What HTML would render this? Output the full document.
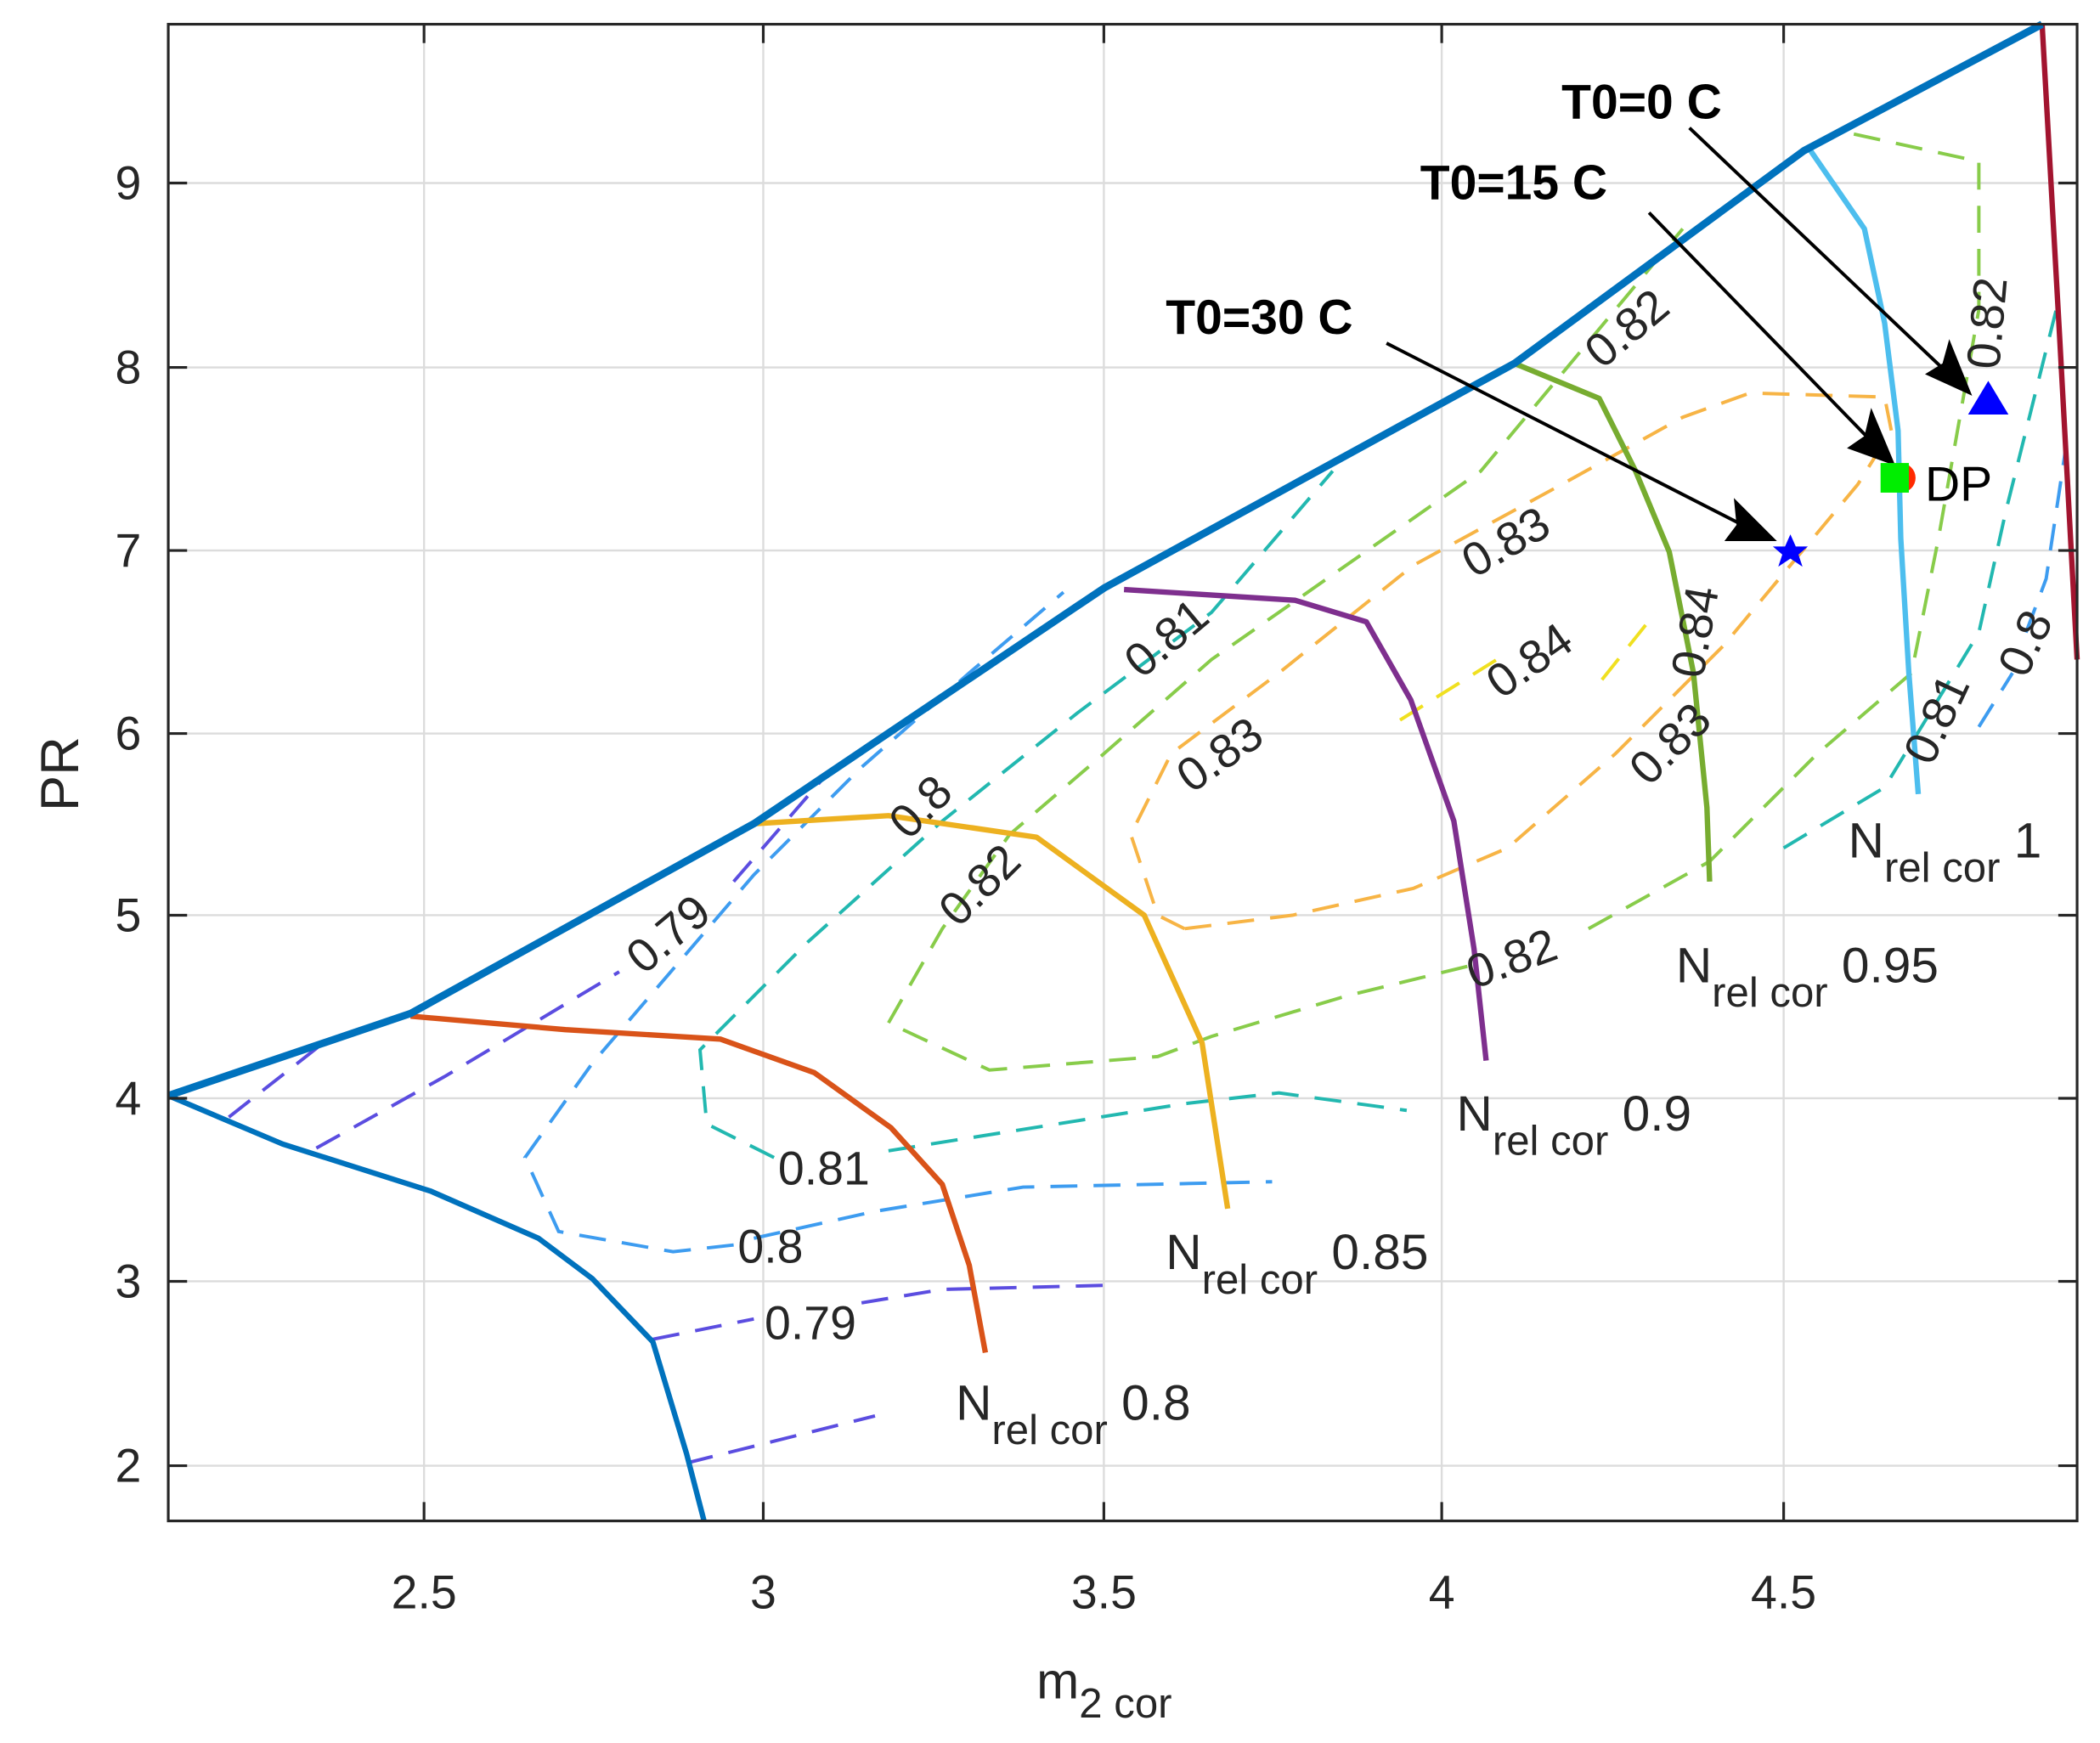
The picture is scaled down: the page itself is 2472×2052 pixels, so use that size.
<!DOCTYPE html>
<html><head><meta charset="utf-8"><style>
html,body{margin:0;padding:0;background:#fff;}
svg{display:block;}
text{font-family:"Liberation Sans",Arial,sans-serif;fill:#262626;}
</style></head><body>
<svg width="2472" height="2052" viewBox="0 0 1560 1295" preserveAspectRatio="none" xmlns="http://www.w3.org/2000/svg">
<rect x="0" y="0" width="1560" height="1295" fill="#fff"/>
<!-- grid -->
<g stroke="#dcdcdc" stroke-width="1.5">
<line x1="315" y1="18" x2="315" y2="1130"/><line x1="567" y1="18" x2="567" y2="1130"/>
<line x1="820" y1="18" x2="820" y2="1130"/><line x1="1071" y1="18" x2="1071" y2="1130"/>
<line x1="1325" y1="18" x2="1325" y2="1130"/>
<line x1="125" y1="136" x2="1543" y2="136"/><line x1="125" y1="273" x2="1543" y2="273"/>
<line x1="125" y1="409" x2="1543" y2="409"/><line x1="125" y1="545" x2="1543" y2="545"/>
<line x1="125" y1="680" x2="1543" y2="680"/><line x1="125" y1="816" x2="1543" y2="816"/>
<line x1="125" y1="952" x2="1543" y2="952"/><line x1="125" y1="1089" x2="1543" y2="1089"/>
</g>
<!-- dashed efficiency contours -->
<g fill="none" stroke-width="2.5" stroke-dasharray="20,12">
<g stroke="#5b4de0">
<polyline points="170,830 240,775"/>
<polyline points="235,853 330,800 460,722"/>
<polyline points="545,655 610,580"/>
<polyline points="485,995 560,980"/>
<polyline points="640,968 700,958 820,955"/>
<polyline points="510,1087 650,1052"/>
</g>
<g stroke="#3d9cf0">
<polyline points="560,920 650,900 760,882 945,878"/>
<polyline points="545,925 500,930 415,915 390,860 440,790 500,720 560,650 640,570 720,500 790,440"/>
<polyline points="1470,540 1495,500"/><polyline points="1505,470 1520,430 1535,330"/>
</g>
<g stroke="#22b8b0">
<polyline points="575,860 525,835 520,780 600,700 700,610 800,530 900,455 990,350"/>
<polyline points="660,855 880,820 950,812 1045,825"/>
<polyline points="1325,630 1400,585 1470,470 1490,380 1530,220"/>
</g>
<g stroke="#88cc4a">
<polyline points="1090,718 1000,740 900,770 860,785 735,795 660,760 700,690 750,620 820,560 900,490 1000,420 1100,350 1250,170"/>
<polyline points="1180,690 1270,640 1350,560 1420,500 1440,400 1470,230 1470,120 1370,98"/>
</g>
<g stroke="#f7b445">
<polyline points="880,690 960,680 1050,660 1120,630 1200,560 1280,480 1330,420 1380,360 1405,320 1400,295 1300,292 1250,310 1160,360 1050,420 950,500 870,560 840,620 860,680 880,690"/>
</g>
<g stroke="#f0e020">
<polyline points="1040,535 1120,485"/><polyline points="1190,505 1230,455"/>
</g>
</g>
<!-- speed lines -->
<g fill="none" stroke-width="4" stroke-linejoin="round">
<polyline stroke="#D95319" points="305,755 420,765 535,772 605,797 662,838 700,880 720,940 732,1005"/>
<polyline stroke="#EDB120" points="560,612 660,606 770,622 850,680 893,775 912,898"/>
<polyline stroke="#7E2F8E" points="835,438 962,446 1015,462 1048,520 1080,610 1095,705 1104,788"/>
<polyline stroke="#77AC30" points="1125,270 1188,296 1215,350 1240,410 1258,500 1268,600 1270,655"/>
<polyline stroke="#4DBEEE" points="1345,112 1385,170 1400,240 1410,320 1412,400 1418,500 1425,590"/>
<polyline stroke="#A2142F" points="1517,18 1530,250 1543,490"/>
<polyline stroke="#0072BD" stroke-width="4" points="125,814 210,850 320,885 400,920 440,950 485,997 510,1080 523,1130"/>
<polyline stroke="#0072BD" stroke-width="5.5" points="125,814 305,753 560,612 820,437 1125,270 1340,112 1517,18"/>
</g>
<!-- contour labels -->
<g font-size="35">
<text transform="translate(478,725) rotate(-40)">0.79</text>
<text transform="translate(675,625) rotate(-45)">0.8</text>
<text transform="translate(712,690) rotate(-45)">0.82</text>
<text transform="translate(848,505) rotate(-40)">0.81</text>
<text transform="translate(885,590) rotate(-35)">0.83</text>
<text transform="translate(1095,430) rotate(-30)">0.83</text>
<text transform="translate(1115,520) rotate(-35)">0.84</text>
<text transform="translate(1190,275) rotate(-40)">0.82</text>
<text transform="translate(1265,505) rotate(-80)">0.84</text>
<text transform="translate(1225,585) rotate(-45)">0.83</text>
<text transform="translate(1095,735) rotate(-20)">0.82</text>
<text transform="translate(1485,275) rotate(-85)">0.82</text>
<text transform="translate(1435,570) rotate(-65)">0.81</text>
<text transform="translate(1505,505) rotate(-65)">0.8</text>
<text x="578" y="880">0.81</text>
<text x="548" y="938">0.8</text>
<text x="568" y="995">0.79</text>
</g>
<!-- speed labels -->
<g font-size="37">
<text x="710" y="1055">N<tspan font-size="31" dy="18">rel cor</tspan><tspan dy="-18"> 0.8</tspan></text>
<text x="866" y="943">N<tspan font-size="31" dy="18">rel cor</tspan><tspan dy="-18"> 0.85</tspan></text>
<text x="1082" y="840">N<tspan font-size="31" dy="18">rel cor</tspan><tspan dy="-18"> 0.9</tspan></text>
<text x="1245" y="730">N<tspan font-size="31" dy="18">rel cor</tspan><tspan dy="-18"> 0.95</tspan></text>
<text x="1373" y="637">N<tspan font-size="31" dy="18">rel cor</tspan><tspan dy="-18"> 1</tspan></text>
</g>
<!-- annotations -->
<g font-size="36" font-weight="bold">
<text x="1160" y="88" style="fill:#000">T0=0 C</text>
<text x="1055" y="148" style="fill:#000">T0=15 C</text>
<text x="866" y="248" style="fill:#000">T0=30 C</text>
</g>
<g stroke="#000" stroke-width="2.5" fill="none">
<line x1="1255" y1="95" x2="1455" y2="285"/>
<line x1="1225" y1="158" x2="1400" y2="338"/>
<line x1="1030" y1="255" x2="1310" y2="398"/>
</g>
<g fill="#000">
<polygon points="1465,294 1430,278 1443,270 1448,252"/>
<polygon points="1408,346 1372,333 1385,324 1390,303"/>
<polygon points="1320,402 1281,402 1290,390 1288,370"/>
</g>
<polygon points="1477,283 1462,308 1492,308" fill="#0000ff"/>
<circle cx="1412" cy="355" r="11" fill="#ff2a00"/>
<rect x="1397" y="344" width="21" height="22" fill="#00ee00"/>
<text x="1430" y="372" font-size="36" style="fill:#000">DP</text>
<polygon points="1330,397 1334,406 1343,406 1336,412 1339,421 1330,415 1321,421 1324,412 1317,406 1326,406" fill="#0000ff"/>
<!-- axes -->
<rect x="125" y="18" width="1418" height="1112" fill="none" stroke="#262626" stroke-width="2"/>
<g stroke="#262626" stroke-width="2">
<line x1="315" y1="1130" x2="315" y2="1116"/><line x1="567" y1="1130" x2="567" y2="1116"/>
<line x1="820" y1="1130" x2="820" y2="1116"/><line x1="1071" y1="1130" x2="1071" y2="1116"/>
<line x1="1325" y1="1130" x2="1325" y2="1116"/>
<line x1="315" y1="18" x2="315" y2="32"/><line x1="567" y1="18" x2="567" y2="32"/>
<line x1="820" y1="18" x2="820" y2="32"/><line x1="1071" y1="18" x2="1071" y2="32"/>
<line x1="1325" y1="18" x2="1325" y2="32"/>
<line x1="125" y1="136" x2="139" y2="136"/><line x1="125" y1="273" x2="139" y2="273"/>
<line x1="125" y1="409" x2="139" y2="409"/><line x1="125" y1="545" x2="139" y2="545"/>
<line x1="125" y1="680" x2="139" y2="680"/><line x1="125" y1="816" x2="139" y2="816"/>
<line x1="125" y1="952" x2="139" y2="952"/><line x1="125" y1="1089" x2="139" y2="1089"/>
<line x1="1543" y1="136" x2="1529" y2="136"/><line x1="1543" y1="273" x2="1529" y2="273"/>
<line x1="1543" y1="409" x2="1529" y2="409"/><line x1="1543" y1="545" x2="1529" y2="545"/>
<line x1="1543" y1="680" x2="1529" y2="680"/><line x1="1543" y1="816" x2="1529" y2="816"/>
<line x1="1543" y1="952" x2="1529" y2="952"/><line x1="1543" y1="1089" x2="1529" y2="1089"/>
</g>
<g font-size="35" text-anchor="middle">
<text x="315" y="1195">2.5</text><text x="567" y="1195">3</text><text x="820" y="1195">3.5</text>
<text x="1071" y="1195">4</text><text x="1325" y="1195">4.5</text>
</g>
<g font-size="35" text-anchor="end">
<text x="105" y="148">9</text><text x="105" y="285">8</text><text x="105" y="421">7</text>
<text x="105" y="557">6</text><text x="105" y="692">5</text><text x="105" y="828">4</text>
<text x="105" y="964">3</text><text x="105" y="1101">2</text>
</g>
<text transform="translate(58,575) rotate(-90)" font-size="40" text-anchor="middle">PR</text>
<text x="770" y="1262" font-size="38">m<tspan font-size="31" dy="14">2 cor</tspan></text>
</svg>
</body></html>
